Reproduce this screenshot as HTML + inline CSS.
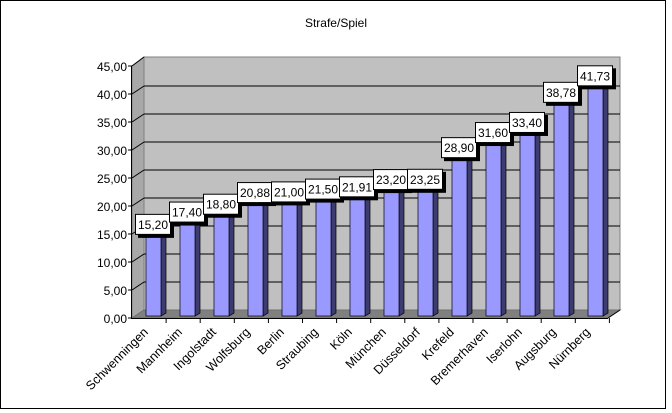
<!DOCTYPE html>
<html><head><meta charset="utf-8"><style>
html,body{margin:0;padding:0;background:#fff;}
svg{display:block;font-family:"Liberation Sans",Arial,sans-serif;}
</style></head><body>
<svg width="672" height="413" viewBox="0 0 672 413" xmlns="http://www.w3.org/2000/svg">
<rect x="0.5" y="0.5" width="665" height="408" fill="#fff" stroke="#000" stroke-width="1"/>
<text x="336" y="27" font-size="12" text-anchor="middle">Strafe/Spiel</text>
<polygon points="144,57 620,57 620,310 144,310" fill="#c0c0c0" stroke="#808080" stroke-width="1"/>
<polygon points="132,66 144,57 144,310 132,318" fill="#a8a8a8" stroke="#808080"/>
<polygon points="132,318 144,310 620,310 608,318" fill="#808080" stroke="#707070"/>
<g stroke="#000" stroke-width="1">
<line x1="144" y1="86" x2="620" y2="86"/><line x1="144" y1="114" x2="620" y2="114"/>
<line x1="144" y1="142" x2="620" y2="142"/><line x1="144" y1="170" x2="620" y2="170"/>
<line x1="144" y1="198" x2="620" y2="198"/><line x1="144" y1="226" x2="620" y2="226"/>
<line x1="144" y1="254" x2="620" y2="254"/><line x1="144" y1="282" x2="620" y2="282"/>
<line x1="132" y1="94" x2="144" y2="86"/><line x1="132" y1="122" x2="144" y2="114"/>
<line x1="132" y1="150" x2="144" y2="142"/><line x1="132" y1="178" x2="144" y2="170"/>
<line x1="132" y1="206" x2="144" y2="198"/><line x1="132" y1="234" x2="144" y2="226"/>
<line x1="132" y1="262" x2="144" y2="254"/><line x1="132" y1="290" x2="144" y2="282"/>
<line x1="132" y1="66" x2="144" y2="57"/>
<line x1="131.5" y1="66" x2="131.5" y2="318"/>
<line x1="131" y1="318.5" x2="608" y2="318.5"/>
<line x1="608" y1="318" x2="620" y2="310"/>
</g>
<g font-size="12" text-anchor="end" fill="#000">
<text x="127" y="71">45,00</text><text x="127" y="99">40,00</text><text x="127" y="127">35,00</text>
<text x="127" y="155">30,00</text><text x="127" y="183">25,00</text><text x="127" y="211">20,00</text>
<text x="127" y="239">15,00</text><text x="127" y="267">10,00</text><text x="127" y="295">5,00</text>
<text x="127" y="323">0,00</text>
</g>
<g stroke="#000"><line x1="128" y1="66" x2="132" y2="66"/><line x1="128" y1="94" x2="132" y2="94"/><line x1="128" y1="122" x2="132" y2="122"/><line x1="128" y1="150" x2="132" y2="150"/><line x1="128" y1="178" x2="132" y2="178"/><line x1="128" y1="206" x2="132" y2="206"/><line x1="128" y1="234" x2="132" y2="234"/><line x1="128" y1="262" x2="132" y2="262"/><line x1="128" y1="290" x2="132" y2="290"/><line x1="128" y1="318" x2="132" y2="318"/></g>
<g id="bars"></g>
</svg>
<script>
(function(){
var names=["Schwenningen","Mannheim","Ingolstadt","Wolfsburg","Berlin","Straubing","Köln","München","Düsseldorf","Krefeld","Bremerhaven","Iserlohn","Augsburg","Nürnberg"];
var vals=[15.20,17.40,18.80,20.88,21.00,21.50,21.91,23.20,23.25,28.90,31.60,33.40,38.78,41.73];
var g=document.getElementById("bars"),s="";
for(var i=0;i<14;i++){
 var x=146+i*34,w=15,d=5,ty=316-vals[i]*5.6,b=316;
 s+='<polygon points="'+(x+w)+','+ty+' '+(x+w+d)+','+(ty-3)+' '+(x+w+d)+','+(b-3)+' '+(x+w)+','+b+'" fill="#3c3c70" stroke="#000" stroke-width="0.7"/>';
 s+='<polygon points="'+x+','+ty+' '+(x+d)+','+(ty-3)+' '+(x+w+d)+','+(ty-3)+' '+(x+w)+','+ty+'" fill="#6666b0" stroke="#000" stroke-width="0.7"/>';
 s+='<rect x="'+x+'" y="'+ty+'" width="'+w+'" height="'+(b-ty)+'" fill="#9999ff" stroke="#000" stroke-width="0.7"/>';
 var cx=x+9,cy=ty-4;
 s+='<rect x="'+(cx-17)+'" y="'+(cy-10)+'" width="36" height="21" fill="#000"/>';
 s+='<rect x="'+(cx-19.5)+'" y="'+(cy-12.5)+'" width="35" height="20" fill="#fff" stroke="#000"/>';
 s+='<text x="'+(cx-2)+'" y="'+(cy+2)+'" font-size="12" text-anchor="middle">'+vals[i].toFixed(2).replace(".",",")+'</text>';
 var tx=132+(i+1)*34.1;
 s+='<line x1="'+tx+'" y1="318" x2="'+tx+'" y2="323" stroke="#000"/>';
 var lx=x,ly=330;
 s+='<text transform="translate('+lx+','+ly+') rotate(-45)" font-size="12.5" text-anchor="end" dy="4">'+names[i]+'</text>';
}
g.innerHTML=s;
})();
</script>
</body></html>
